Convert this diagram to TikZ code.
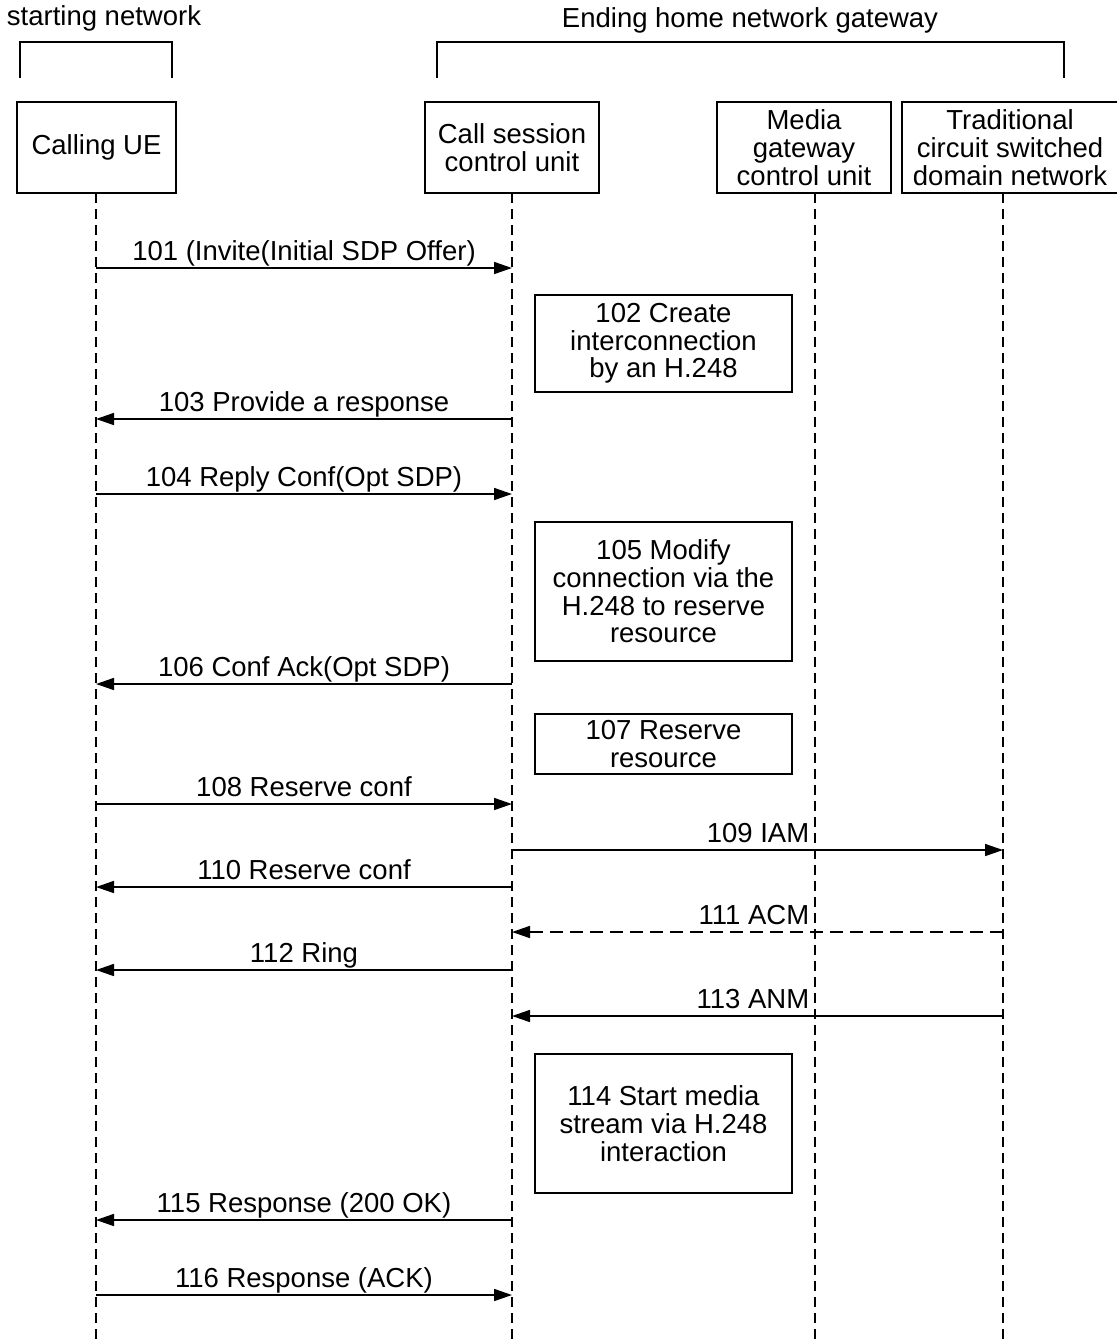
\documentclass[tikz,border=0pt]{standalone}
\usepackage{fontspec}
\setmainfont{Liberation Sans}
\usepackage{tikz}
\usetikzlibrary{
    arrows.meta,
    positioning,
    calc
}
\tikzstyle{party} = [
    rectangle,
    draw=black,
    line width=0.9pt,
    minimum height=45.5pt,
    inner sep=1pt,
    align=center
]
\tikzstyle{action} = [
    rectangle,
    draw=black,
    line width=0.9pt,
    minimum width=128.5pt,
    inner sep=1pt,
    align=center
]
\tikzstyle{lifeline} = [
    dash pattern=on 5pt off 3pt,
    line width=0.8pt
]
\tikzstyle{msg} = [
    -{Triangle[length=9pt,width=6pt]},
    line width=0.8pt
]
\tikzstyle{msgdash} = [
    msg,
    dash pattern=on 6.5pt off 3.5pt
]
\tikzstyle{msglabel} = [
    anchor=base,
    yshift=4pt,
    inner sep=0pt
]

\begin{document}
\begin{tikzpicture}[x=0.5pt, y=-0.5pt, font=\fontsize{13.75}{13.85}\selectfont]
    \useasboundingbox (0,0) rectangle (1116,1340);

    % Network groups
    \node (startnet) at (104,18) {starting network};
    \draw[line width=0.9pt] (20,78) -- (20,42) -- (172,42) -- (172,78);
    \node (endnet) at (750,20) {Ending home network gateway};
    \draw[line width=0.9pt] (437,78) -- (437,42) -- (1064,42) -- (1064,78);

    % Participants
    \node[party, minimum width=79.5pt] (ue) at (96.5,147.5) {Calling UE};
    \node[party, minimum width=87pt] (cscu) at (512,147.5) {Call session\\control unit};
    \node[party, minimum width=87pt] (mgcu) at (804,147.5) {Media\\gateway\\control unit};
    \node[party, minimum width=108pt] (trad) at (1010,147.5) {Traditional\\circuit switched\\domain network};

    % Lifelines
    \coordinate (ueL) at (96,193);
    \coordinate (csL) at (512,193);
    \coordinate (mgL) at (815,193);
    \coordinate (trL) at (1003,193);
    \draw[lifeline] (ueL) -- (ueL |- 0,1340);
    \draw[lifeline] (csL) -- (csL |- 0,1340);
    \draw[lifeline] (mgL) -- (mgL |- 0,1340);
    \draw[lifeline] (trL) -- (trL |- 0,1340);

    % Processing steps
    \node[action, minimum height=48.5pt] (s102) at (663.5,343.5) {102 Create\\interconnection\\by an H.248};
    \node[action, minimum height=69.5pt] (s105) at (663.5,591.5) {105 Modify\\connection via the\\H.248 to reserve\\resource};
    \node[action, minimum height=30pt] (s107) at (663.5,744) {107 Reserve\\resource};
    \node[action, minimum height=69.5pt] (s114) at (663.5,1123.5) {114 Start media\\stream via H.248\\interaction};

    % Messages
    \draw[msg] (ueL |- 0,268) -- (csL |- 0,268) node[msglabel, midway] {101 (Invite(Initial SDP Offer)};
    \draw[msg] (csL |- 0,419) -- (ueL |- 0,419) node[msglabel, midway] {103 Provide a response};
    \draw[msg] (ueL |- 0,494) -- (csL |- 0,494) node[msglabel, midway] {104 Reply Conf(Opt SDP)};
    \draw[msg] (csL |- 0,684) -- (ueL |- 0,684) node[msglabel, midway] {106 Conf Ack(Opt SDP)};
    \draw[msg] (ueL |- 0,804) -- (csL |- 0,804) node[msglabel, midway] {108 Reserve conf};
    \draw[msg] (csL |- 0,850) -- (trL |- 0,850) node[msglabel, pos=0.607, anchor=base east] {109 IAM};
    \draw[msg] (csL |- 0,887) -- (ueL |- 0,887) node[msglabel, midway] {110 Reserve conf};
    \draw[msgdash] (trL |- 0,932) -- (csL |- 0,932) node[msglabel, pos=0.393, anchor=base east] {111 ACM};
    \draw[msg] (csL |- 0,970) -- (ueL |- 0,970) node[msglabel, midway] {112 Ring};
    \draw[msg] (trL |- 0,1016) -- (csL |- 0,1016) node[msglabel, pos=0.393, anchor=base east] {113 ANM};
    \draw[msg] (csL |- 0,1220) -- (ueL |- 0,1220) node[msglabel, midway] {115 Response (200 OK)};
    \draw[msg] (ueL |- 0,1295) -- (csL |- 0,1295) node[msglabel, midway] {116 Response (ACK)};
\end{tikzpicture}
\end{document}
